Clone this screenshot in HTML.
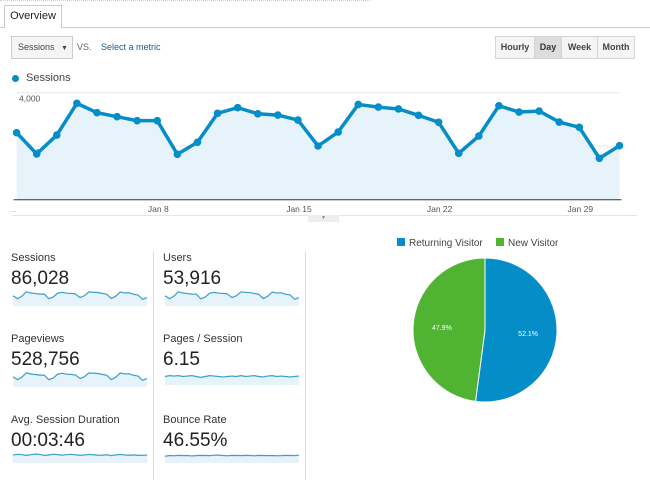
<!DOCTYPE html>
<html><head><meta charset="utf-8"><style>
*{box-sizing:border-box}
body{margin:0;width:650px;height:483px;background:#fff;font-family:"Liberation Sans",Arial,sans-serif;position:relative;overflow:hidden;color:#333}
.abs{position:absolute}
.btn{position:absolute;top:36px;height:23px;border:1px solid #d4d4d4;background:#f5f5f5;font-size:9px;font-weight:bold;color:#444;text-align:center;line-height:21px}
.lbl{position:absolute;font-size:11px;color:#333}
.val{position:absolute;font-size:19px;color:#222}
.sep{position:absolute;width:1px;background:#ddd}
</style></head><body>
<div class="abs" style="left:0;top:0;width:370px;height:1px;border-top:1px dotted #ccc"></div>
<div class="abs" style="left:0;top:27px;width:650px;height:1px;background:#ccc"></div>
<div class="abs" style="left:4px;top:5px;width:58px;height:23px;border:1px solid #ccc;border-bottom:none;background:#fff;font-size:11px;line-height:20px;text-align:center;color:#222">Overview</div>
<div class="abs" style="left:11px;top:36px;width:62px;height:23px;border:1px solid #ccc;background:#f5f5f5;font-size:9px;line-height:21px;padding-left:6px;color:#444">Sessions <span style="font-size:7px;margin-left:4px">▼</span></div>
<div class="abs" style="left:77px;top:42px;font-size:9px;color:#666">VS.</div>
<div class="abs" style="left:101px;top:42px;font-size:9px;color:#1a5a8a">Select a metric</div>
<div class="btn" style="left:495px;width:40px">Hourly</div>
<div class="btn" style="left:534px;width:28px;background:#ddd;color:#333">Day</div>
<div class="btn" style="left:561px;width:37px">Week</div>
<div class="btn" style="left:597px;width:38px">Month</div>
<div class="abs" style="left:12px;top:75px;width:7px;height:7px;border-radius:50%;background:#058dc7"></div>
<div class="abs" style="left:26px;top:72px;font-size:11px;color:#444">Sessions</div>

<svg class="abs" style="left:0;top:0" width="650" height="230" id="main"></svg>
<div class="abs" style="left:12px;top:215px;width:625px;height:1px;background:#e5e5e5"></div>
<div class="abs" style="left:308px;top:215px;width:31px;height:7px;background:#eee;font-size:5px;text-align:center;color:#888;line-height:7px">▼</div>

<div class="lbl" style="left:11px;top:252px">Sessions</div>
<div class="val" style="left:11px;top:268px">86,028</div>
<div class="lbl" style="left:163px;top:252px">Users</div>
<div class="val" style="left:163px;top:268px">53,916</div>
<div class="lbl" style="left:11px;top:333px">Pageviews</div>
<div class="val" style="left:11px;top:349px">528,756</div>
<div class="lbl" style="left:163px;top:333px">Pages / Session</div>
<div class="val" style="left:163px;top:349px">6.15</div>
<div class="lbl" style="left:11px;top:414px">Avg. Session Duration</div>
<div class="val" style="left:11px;top:430px">00:03:46</div>
<div class="lbl" style="left:163px;top:414px">Bounce Rate</div>
<div class="val" style="left:163px;top:430px">46.55%</div>
<div class="sep" style="left:153px;top:252px;height:228px"></div>
<div class="sep" style="left:305px;top:252px;height:228px"></div>
<svg class="abs" style="left:0;top:0" width="320" height="483" id="sparks"></svg>

<svg class="abs" style="left:380px;top:228px" width="220" height="190" id="pie"></svg>

<script>
const days = ["Jan 1","Jan 2","Jan 3","Jan 4","Jan 5","Jan 6","Jan 7","Jan 8","Jan 9","Jan 10","Jan 11","Jan 12","Jan 13","Jan 14","Jan 15","Jan 16","Jan 17","Jan 18","Jan 19","Jan 20","Jan 21","Jan 22","Jan 23","Jan 24","Jan 25","Jan 26","Jan 27","Jan 28","Jan 29","Jan 30","Jan 31"];
const sessions = [2500,1700,2410,3600,3250,3100,2950,2950,1690,2140,3225,3440,3210,3160,2975,2000,2525,3560,3460,3390,3150,2890,1725,2375,3510,3275,3310,2900,2700,1540,2010];
const yTicks = [2000,4000];
const yTickLabels = ["2,000","4,000"];
const xTickLabels = ["Jan 8","Jan 15","Jan 22","Jan 29"];
const users = [1560,1080,1500,2220,2010,1920,1830,1820,1060,1340,1990,2120,1980,1950,1840,1260,1570,2190,2130,2090,1940,1790,1090,1480,2160,2020,2040,1800,1690,980,1260];
const pageviews = [15400,10500,14800,22100,20000,19100,18100,18100,10400,13200,19800,21100,19700,19400,18300,12300,15500,21900,21300,20800,19400,17800,10600,14600,21600,20100,20300,17800,16600,9500,12400];
const pagesPerSession = [6.1,6.2,6.15,6.2,6.1,6.15,6.2,6.1,6.0,6.1,6.2,6.15,6.1,6.05,6.1,6.15,6.1,6.2,6.1,6.15,6.2,6.1,6.05,6.15,6.2,6.1,6.15,6.1,6.05,6.1,6.15];
const avgDuration = [220,230,225,215,225,235,228,215,220,232,226,218,225,230,222,216,220,228,224,216,218,224,210,222,228,220,216,222,214,215,218];
const bounceRate = [46,46.5,46.3,46.6,46.4,46.5,46.2,46.4,46.6,46.5,46.4,46.7,46.8,46.5,46.3,46.6,46.5,46.4,46.6,46.5,46.3,46.6,46.5,46.4,46.5,46.3,46.4,46.6,46.5,46.4,46.7];
const pieLabels = ["Returning Visitor","New Visitor"];
const pieValues = [52.1,47.9];
const pieColors = ["#058dc7","#50b432"];

const NS="http://www.w3.org/2000/svg";
function mk(p,tag,attrs,name){const e=document.createElementNS(NS,tag);for(const k in attrs)e.setAttribute(k,attrs[k]);


p.appendChild(e);return e;}

// main chart
const svg=document.getElementById('main');
const X0=16.6,X1=619.5,Y0=199.3,YMAX=4000,YTOP=92.7;
const xS=i=>X0+(X1-X0)*i/(days.length-1);
const yS=v=>Y0-(Y0-YTOP)*v/YMAX;
yTicks.forEach((t,i)=>{
  mk(svg,'line',{x1:X0,x2:X1+1,y1:yS(t),y2:yS(t),stroke:'#e8e8e8','stroke-width':1},'gridline');
  const tx=mk(svg,'text',{x:19,y:yS(t)+9,'font-size':8.5,fill:'#555','font-family':'Liberation Sans'},'y-tick-label');tx.textContent=yTickLabels[i];
});
let pts=sessions.map((v,i)=>xS(i)+','+yS(v)).join(' ');
mk(svg,'polygon',{points:X0+','+Y0+' '+pts+' '+X1+','+Y0,fill:'#e6f3fa'},'area-fill');
mk(svg,'polyline',{points:pts,fill:'none',stroke:'#058dc7','stroke-width':3.5,'stroke-linejoin':'round'},'sessions-line');
sessions.forEach((v,i)=>mk(svg,'circle',{cx:xS(i),cy:yS(v),r:3.8,fill:'#058dc7'},'sessions-point'));
mk(svg,'line',{x1:X0-3,x2:X1+2,y1:Y0+0.5,y2:Y0+0.5,stroke:'#333','stroke-width':1},'x-axis');
xTickLabels.forEach(l=>{const i=days.indexOf(l);const t=mk(svg,'text',{x:xS(i)+1,y:212,'font-size':8.5,fill:'#555','text-anchor':'middle','font-family':'Liberation Sans'},'x-tick-label');t.textContent=l;});
const dots=mk(svg,'text',{x:11,y:212,'font-size':7,fill:'#888'},'x-axis-ellipsis');dots.textContent='...';

// sparklines
const sp=document.getElementById('sparks');
function spark(arr,x,y,w,h,name,lo,hi){
  const xs=i=>x+w*i/(arr.length-1);const ys=v=>y+h-(v-lo)/(hi-lo)*h;
  const p=arr.map((v,i)=>xs(i)+','+ys(v)).join(' ');
  mk(sp,'polygon',{points:x+','+(y+h+6)+' '+p+' '+(x+w)+','+(y+h+6),fill:'#e6f3fa'},name+'-area');
  mk(sp,'polyline',{points:p,fill:'none',stroke:'#3c9ec9','stroke-width':1.2},name+'-line');
}
function rng(a,pad){const mn=Math.min(...a),mx=Math.max(...a);return [mn-(mx-mn)*pad,mx+(mx-mn)*pad];}
let r;
r=rng(sessions,0.1);spark(sessions,13,291,134,9,'sessions-spark',r[0],r[1]);
r=rng(users,0.1);spark(users,165,291,134,9,'users-spark',r[0],r[1]);
r=rng(pageviews,0.1);spark(pageviews,13,372,134,9,'pageviews-spark',r[0],r[1]);
spark(pagesPerSession,165,374,134,5,'pages-session-spark',5.8,6.4);
spark(avgDuration,13,453,134,4,'avg-duration-spark',190,250);
spark(bounceRate,165,454,134,3,'bounce-rate-spark',45.5,47.5);

// pie
const pie=document.getElementById('pie');
const cx=105,cy=102,R=72;
// legend
let lx=17;
pieLabels.forEach((l,i)=>{
  mk(pie,'rect',{x:lx,y:10,width:8,height:8,fill:pieColors[i]},'legend-swatch');
  const t=mk(pie,'text',{x:lx+12,y:18,'font-size':10,fill:'#444','font-family':'Liberation Sans'},'legend-label');t.textContent=l;
  lx+= i==0?99:0;
});
const tot=pieValues.reduce((a,b)=>a+b,0);
let a0=-Math.PI/2;
pieValues.forEach((v,i)=>{
  const a1=a0+2*Math.PI*v/tot;
  const large=(a1-a0)>Math.PI?1:0;
  const d=`M${cx},${cy} L${cx+R*Math.cos(a0)},${cy+R*Math.sin(a0)} A${R},${R} 0 ${large} 1 ${cx+R*Math.cos(a1)},${cy+R*Math.sin(a1)} Z`;
  mk(pie,'path',{d:d,fill:pieColors[i],stroke:'#fff','stroke-width':1},'pie-slice');
  const am=(a0+a1)/2;
  const t=mk(pie,'text',{x:cx+R*0.6*Math.cos(am),y:cy+R*0.6*Math.sin(am)+3,'font-size':7,fill:'#fff','text-anchor':'middle','font-family':'Liberation Sans'},'pie-label');
  t.textContent=v.toFixed(1)+'%';
  a0=a1;
});
</script>
</body></html>
